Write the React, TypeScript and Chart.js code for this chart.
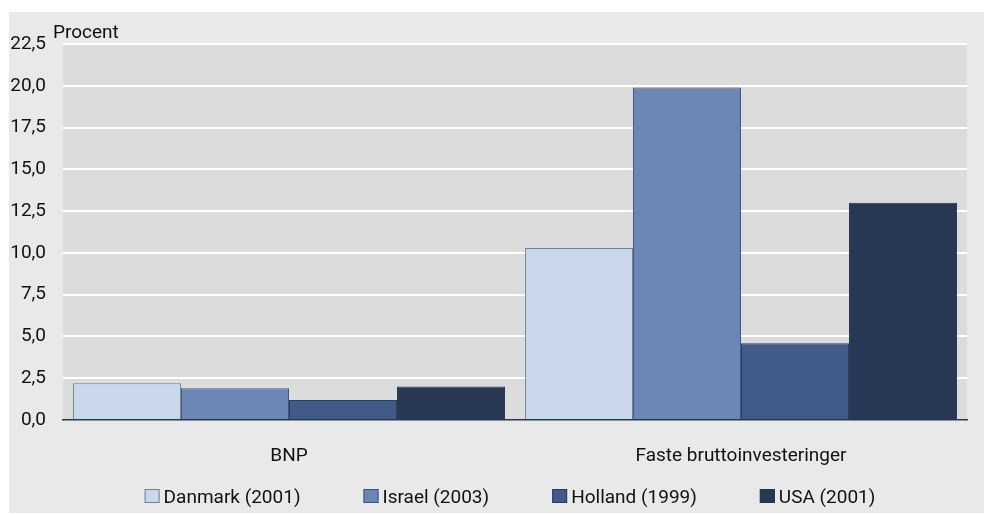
import React, { useEffect, useRef } from "react";
import { Chart, registerables } from "chart.js";

Chart.register(...registerables);

const categories = ["BNP", "Faste bruttoinvesteringer"];
const seriesNames = ["Danmark (2001)", "Israel (2003)", "Holland (1999)", "USA (2001)"];
const danmark = [2.2, 10.3];
const israel = [1.9, 19.9];
const holland = [1.2, 4.6];
const usa = [2.0, 13.0];
const yTickLabels = ["0,0", "2,5", "5,0", "7,5", "10,0", "12,5", "15,0", "17,5", "20,0", "22,5"];
const yAxisTitle = "Procent";

const fills = ["#c8d7ea", "#6c87b6", "#425a88", "#283754"];
const borders = ["#6f7f98", "#3f5681", "#2b3d64", "#263450"];
const FONT = "Roboto, 'Liberation Sans', Arial, sans-serif";
const TEXT = "#111111";
const NAVY = "#283754";

const decorPlugin = {
  id: "decor",
  beforeDraw(chart: any) {
    const { ctx, chartArea } = chart;
    ctx.save();
    ctx.fillStyle = "#e9e9e9";
    ctx.fillRect(9, 12, chart.width - 9, chart.height - 13);
    ctx.fillStyle = "#dcdcdc";
    ctx.fillRect(chartArea.left, chartArea.top, chartArea.right - chartArea.left, chartArea.bottom - chartArea.top);
    ctx.restore();
  },
  afterDraw(chart: any) {
    const { ctx, chartArea } = chart;
    ctx.save();
    ctx.font = `19px ${FONT}`;
    ctx.fillStyle = TEXT;
    ctx.textBaseline = "alphabetic";
    ctx.textAlign = "left";
    ctx.fillText(yAxisTitle, chartArea.left - 10, chartArea.top - 6);

    // legend
    const boxW = 15;
    const boxH = 14;
    const gapText = 4;
    const gapItem = 63;
    const widths = seriesNames.map((n) => ctx.measureText(n).width);
    const total = widths.reduce((s, w) => s + boxW + gapText + w, 0) + gapItem * (seriesNames.length - 1);
    const centerX = (chartArea.left + chartArea.right) / 2 - 5;
    let x = centerX - total / 2;
    const boxTop = chart.height - 25;
    const baseline = chart.height - 11;
    seriesNames.forEach((n, i) => {
      ctx.fillStyle = fills[i];
      ctx.fillRect(x, boxTop, boxW, boxH);
      ctx.strokeStyle = borders[i];
      ctx.lineWidth = 1;
      ctx.strokeRect(x + 0.5, boxTop + 0.5, boxW - 1, boxH - 1);
      ctx.fillStyle = TEXT;
      ctx.fillText(n, x + boxW + gapText, baseline);
      x += boxW + gapText + widths[i] + gapItem;
    });
    ctx.restore();
  },
};

export default function App() {
  const ref = useRef<HTMLCanvasElement | null>(null);

  useEffect(() => {
    if (!ref.current) return;
    const series = [danmark, israel, holland, usa];
    const chart = new Chart(ref.current, {
      type: "bar",
      data: {
        labels: categories,
        datasets: series.map((d, i) => ({
          label: seriesNames[i],
          data: d,
          backgroundColor: fills[i],
          borderColor: borders[i],
          borderWidth: 1,
          categoryPercentage: 0.956,
          barPercentage: 1.0,
        })),
      },
      options: {
        animation: false,
        responsive: false,
        devicePixelRatio: 1,
        layout: { padding: { left: 9, right: 17, top: 44, bottom: 44 } },
        plugins: {
          legend: { display: false },
          tooltip: { enabled: false },
          title: { display: false },
        },
        scales: {
          x: {
            z: 1,
            grid: { display: false },
            border: { display: true, color: NAVY, width: 1.5 },
            ticks: {
              padding: 17,
              color: TEXT,
              font: { family: FONT, size: 19 },
              maxRotation: 0,
            },
            afterFit(scale: any) {
              scale.height = 50;
            },
          },
          y: {
            min: 0,
            max: 22.5,
            border: { display: false },
            grid: {
              drawTicks: false,
              lineWidth: 2,
              color: (c: any) => (c.tick && c.tick.value === 0 ? "rgba(0,0,0,0)" : "#ffffff"),
            },
            ticks: {
              stepSize: 2.5,
              padding: 17,
              color: TEXT,
              font: { family: FONT, size: 19 },
              callback: (_v: any, index: number) => yTickLabels[index],
            },
            afterFit(scale: any) {
              scale.width = 54;
            },
          },
        },
      },
      plugins: [decorPlugin],
    });
    return () => chart.destroy();
  }, []);

  return (
    <div style={{ position: "fixed", left: 0, top: 0, width: 984, height: 514 }}>
      <canvas ref={ref} width={984} height={514} style={{ display: "block" }} />
    </div>
  );
}
